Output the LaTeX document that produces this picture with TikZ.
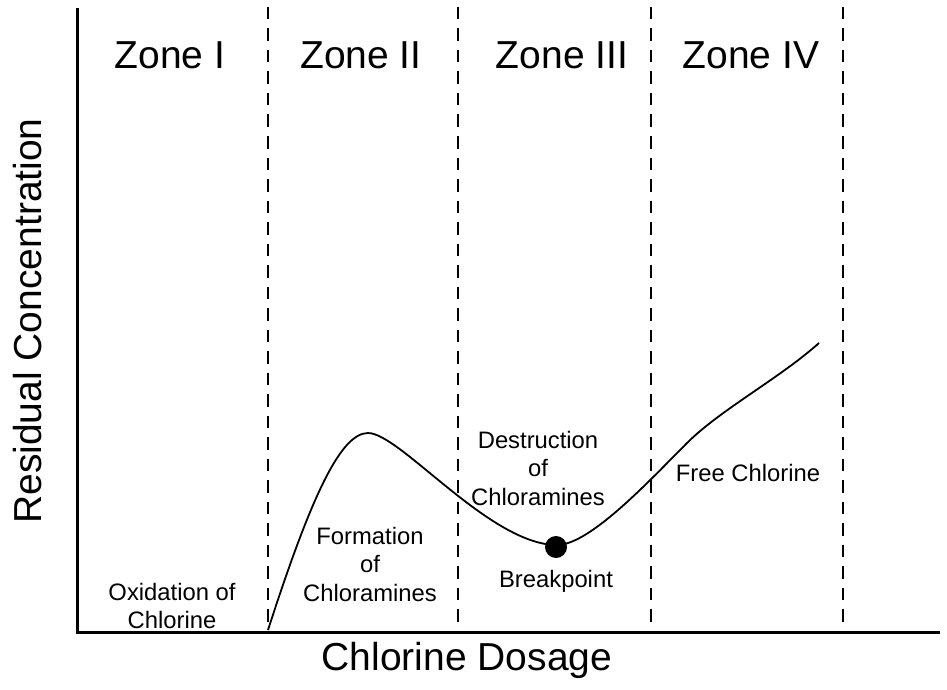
\documentclass[tikz,border=0pt]{standalone}
\usepackage{fontspec}
\setmainfont{Liberation Sans}
\begin{document}
\begin{tikzpicture}[x=1pt,y=-1pt,
  axisline/.style={line width=3pt},
  zoneline/.style={line width=1.8pt, dash pattern=on 12.5pt off 9pt},
  curveline/.style={line width=1.8pt},
  bigtext/.style={inner sep=0pt, font=\fontsize{39}{47}\selectfont},
  smalltext/.style={inner sep=0pt, align=center, font=\fontsize{23.8}{28.5}\selectfont}]
\useasboundingbox (0,0) rectangle (947,690);
\fill[white] (0,0) rectangle (947,690);
% axes
\coordinate (ytop) at (77,8);
\coordinate (orig) at (77,632);
\coordinate (xend) at (940,632);
\draw[axisline] (ytop) -- (orig) -- (xend);
% zone separators
\foreach \n/\x in {a/268,b/458,c/651,d/843}{
  \coordinate (\n top) at (\x,7);
  \coordinate (\n bot) at (\x,631);
  \draw[zoneline] (\n top) -- (\n bot);
}
% zone titles
\node[bigtext] (z1) at (170,55) {Zone I};
\node[bigtext] (z2) at (361,55) {Zone II};
\node[bigtext] (z3) at (562,55) {Zone III};
\node[bigtext] (z4) at (751,55) {Zone IV};
% axis labels
\node[bigtext, rotate=90] (ylab) at (28,321) {Residual Concentration};
\node[bigtext] (xlab) at (467,660) {Chlorine Dosage};
% curve
\coordinate (cstart) at (268,630);
\coordinate (cpeak) at (368,433);
\coordinate (cmin) at (557,545);
\coordinate (cmid) at (687,443);
\coordinate (cend) at (819,343);
\draw[curveline] (cstart) .. controls (310,500) and (340,433) .. (cpeak)
  .. controls (400,433) and (490,545) .. (cmin)
  .. controls (590,545) and (650,480) .. (cmid)
  .. controls (720,410) and (780,378) .. (cend);
% breakpoint
\node[circle, fill=black, minimum size=22pt, inner sep=0pt] (bp) at (556,547) {};
% labels
\node[smalltext] (oxid) at (172,606) {Oxidation of\\Chlorine};
\node[smalltext] (form) at (370,564) {Formation\\of\\Chloramines};
\node[smalltext] (dest) at (538,468) {Destruction\\of\\Chloramines};
\node[smalltext] (bptext) at (556,581) {Breakpoint};
\node[smalltext] (free) at (748,473) {Free Chlorine};
\end{tikzpicture}
\end{document}
